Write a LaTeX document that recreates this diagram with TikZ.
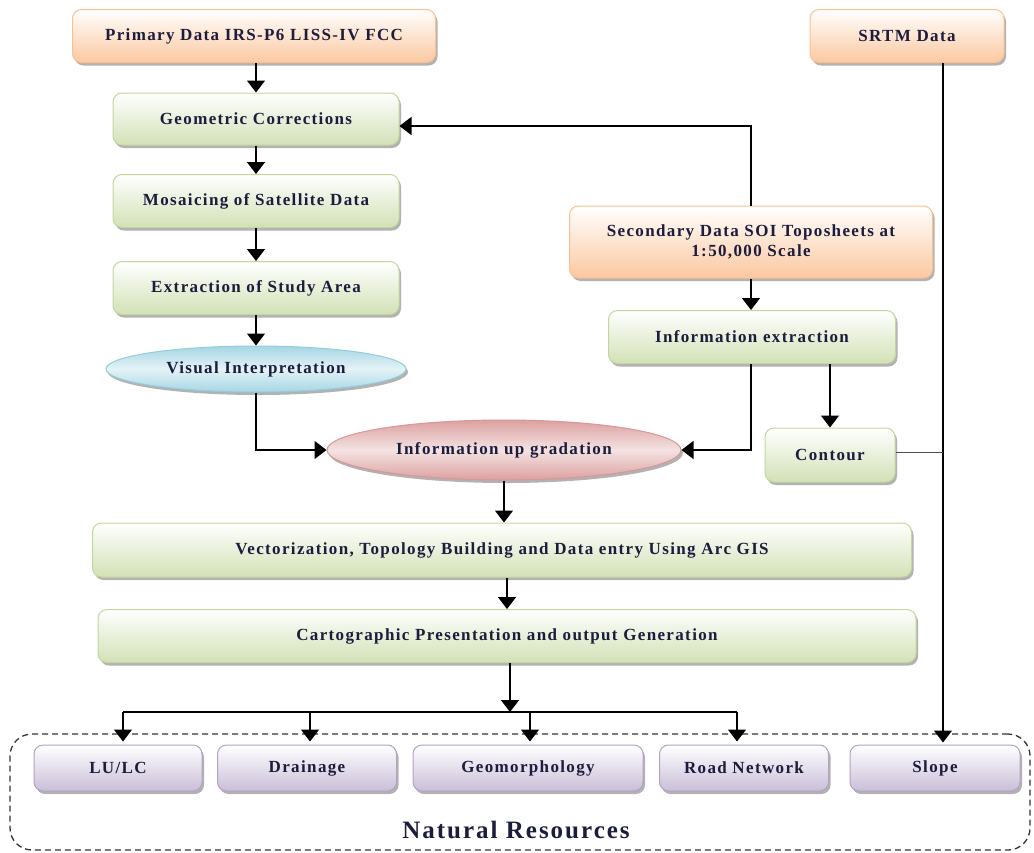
\documentclass[tikz,border=0pt]{standalone}
\usepackage{fontspec}
\setmainfont{Liberation Serif}[LetterSpace=8]
\usetikzlibrary{shapes.geometric,shadows,arrows.meta,calc}
\definecolor{txt}{RGB}{28,28,60}
\definecolor{orB}{RGB}{250,192,144}
\definecolor{orF}{RGB}{251,200,160}
\definecolor{grB}{RGB}{195,214,155}
\definecolor{grF}{RGB}{210,225,182}
\definecolor{blB}{RGB}{146,205,220}
\definecolor{blF}{RGB}{166,214,228}
\definecolor{pkB}{RGB}{217,150,148}
\definecolor{pkF}{RGB}{220,160,160}
\definecolor{puB}{RGB}{179,162,199}
\definecolor{puF}{RGB}{202,190,216}
\begin{document}
\begin{tikzpicture}[x=1pt,y=-1pt,
  base/.style={font=\fontsize{17}{20}\selectfont\bfseries, text=txt, inner sep=0pt, line width=1pt, align=center,
    drop shadow={shadow xshift=2pt,shadow yshift=-3pt,opacity=0.3,fill=black}},
  obox/.style={base, rectangle, rounded corners=9pt, draw=orB, top color=white, bottom color=orF},
  gbox/.style={base, rectangle, rounded corners=9pt, draw=grB, top color=white, bottom color=grF},
  pbox/.style={base, rectangle, rounded corners=9pt, draw=puB, top color=white, bottom color=puF, minimum height=46pt},
  bell/.style={base, ellipse, draw=blB, top color=blF, bottom color=blF, middle color=blF!30},
  pell/.style={base, ellipse, draw=pkB, top color=pkF, bottom color=pkF, middle color=pkF!30},
  arr/.style={-{Triangle[length=12pt,width=18pt]}, line width=1.6pt},
  plain/.style={line width=1.6pt}
]
\useasboundingbox (0,0) rectangle (1034,852);

% nodes
\node[obox, minimum width=363pt, minimum height=53pt] (prim) at (254,36) {Primary Data IRS-P6 LISS-IV FCC};
\node[obox, minimum width=194pt, minimum height=53pt] (srtm) at (907,36) {SRTM Data};
\node[gbox, minimum width=286pt, minimum height=52pt] (geo) at (256,119) {Geometric Corrections};
\node[gbox, minimum width=286pt, minimum height=53pt] (mos) at (256,201) {Mosaicing of Satellite Data};
\node[gbox, minimum width=286pt, minimum height=53pt] (ext) at (256,288) {Extraction of Study Area};
\node[bell, minimum width=300pt, minimum height=46pt] (vis) at (256,369) {Visual Interpretation};
\node[obox, minimum width=363pt, minimum height=72pt] (sec) at (751,242) {Secondary Data SOI Toposheets at\\1:50,000 Scale};
\node[gbox, minimum width=287pt, minimum height=53pt] (iex) at (752,337) {Information extraction};
\node[gbox, minimum width=130pt, minimum height=54pt] (con) at (830,455) {Contour};
\node[pell, minimum width=354pt, minimum height=60pt] (up) at (504,450) {Information up gradation};
\node[gbox, minimum width=819pt, minimum height=54pt] (vec) at (502,550) {Vectorization, Topology Building and Data entry Using Arc GIS};
\node[gbox, minimum width=818pt, minimum height=53pt] (car) at (507,636) {Cartographic Presentation and output Generation};

\node[draw=black!80, line width=1.3pt, dash pattern=on 6pt off 4pt, rounded corners=22pt,
      minimum width=1020pt, minimum height=116pt, inner sep=0pt] (nr) at (520,792) {};
\node[pbox, minimum width=168pt] (lulc) at (118,768) {LU/LC};
\node[pbox, minimum width=179pt] (drn) at (307,768) {Drainage};
\node[pbox, minimum width=230pt] (gmp) at (528,768) {Geomorphology};
\node[pbox, minimum width=169pt] (road) at (744,768) {Road Network};
\node[pbox, minimum width=170pt] (slope) at (935,768) {Slope};
\node[font=\fontsize{25}{30}\selectfont\bfseries, text=txt, inner sep=0pt] (nrt) at (516,830) {Natural Resources};

% junctions
\coordinate (sj) at (943,451);
\coordinate (hub) at (510,712);

% connectors
\draw[arr] (prim.south -| geo.north) -- (geo.north);
\draw[arr] (geo.south) -- (mos.north);
\draw[arr] (mos.south) -- (ext.north);
\draw[arr] (ext.south) -- (vis.north);
\draw[arr] (vis.south) |- (up.west);
\draw[arr] (sec.north) |- ([yshift=-7pt]geo.east);
\draw[arr] (sec.south) -- (sec.south |- iex.north);
\draw[arr] (iex.south -| sec.south) |- (up.east);
\draw[arr] (iex.south -| con.north) -- (con.north);
\draw[arr] (srtm.south -| sj) -- ([yshift=2pt]slope.north -| sj);
\draw[line width=1pt, black!70] ([yshift=3pt]con.east) -- ([yshift=3pt]con.east -| sj);
\draw[arr] (up.south) -- (up.south |- vec.north);
\draw[arr] (vec.south -| car.north) -- (car.north);
\draw[arr] (car.south -| hub) -- (hub);
\draw[plain] ([xshift=5pt]lulc.north |- hub) -- ([xshift=-7pt]road.north |- hub);
\draw[arr] ([xshift=5pt]lulc.north |- hub) -- ([xshift=5pt,yshift=3pt]lulc.north);
\draw[arr] ([xshift=3pt]drn.north |- hub) -- ([xshift=3pt,yshift=3pt]drn.north);
\draw[arr] ([xshift=2pt]gmp.north |- hub) -- ([xshift=2pt,yshift=3pt]gmp.north);
\draw[arr] ([xshift=-7pt]road.north |- hub) -- ([xshift=-7pt,yshift=3pt]road.north);
\end{tikzpicture}
\end{document}
